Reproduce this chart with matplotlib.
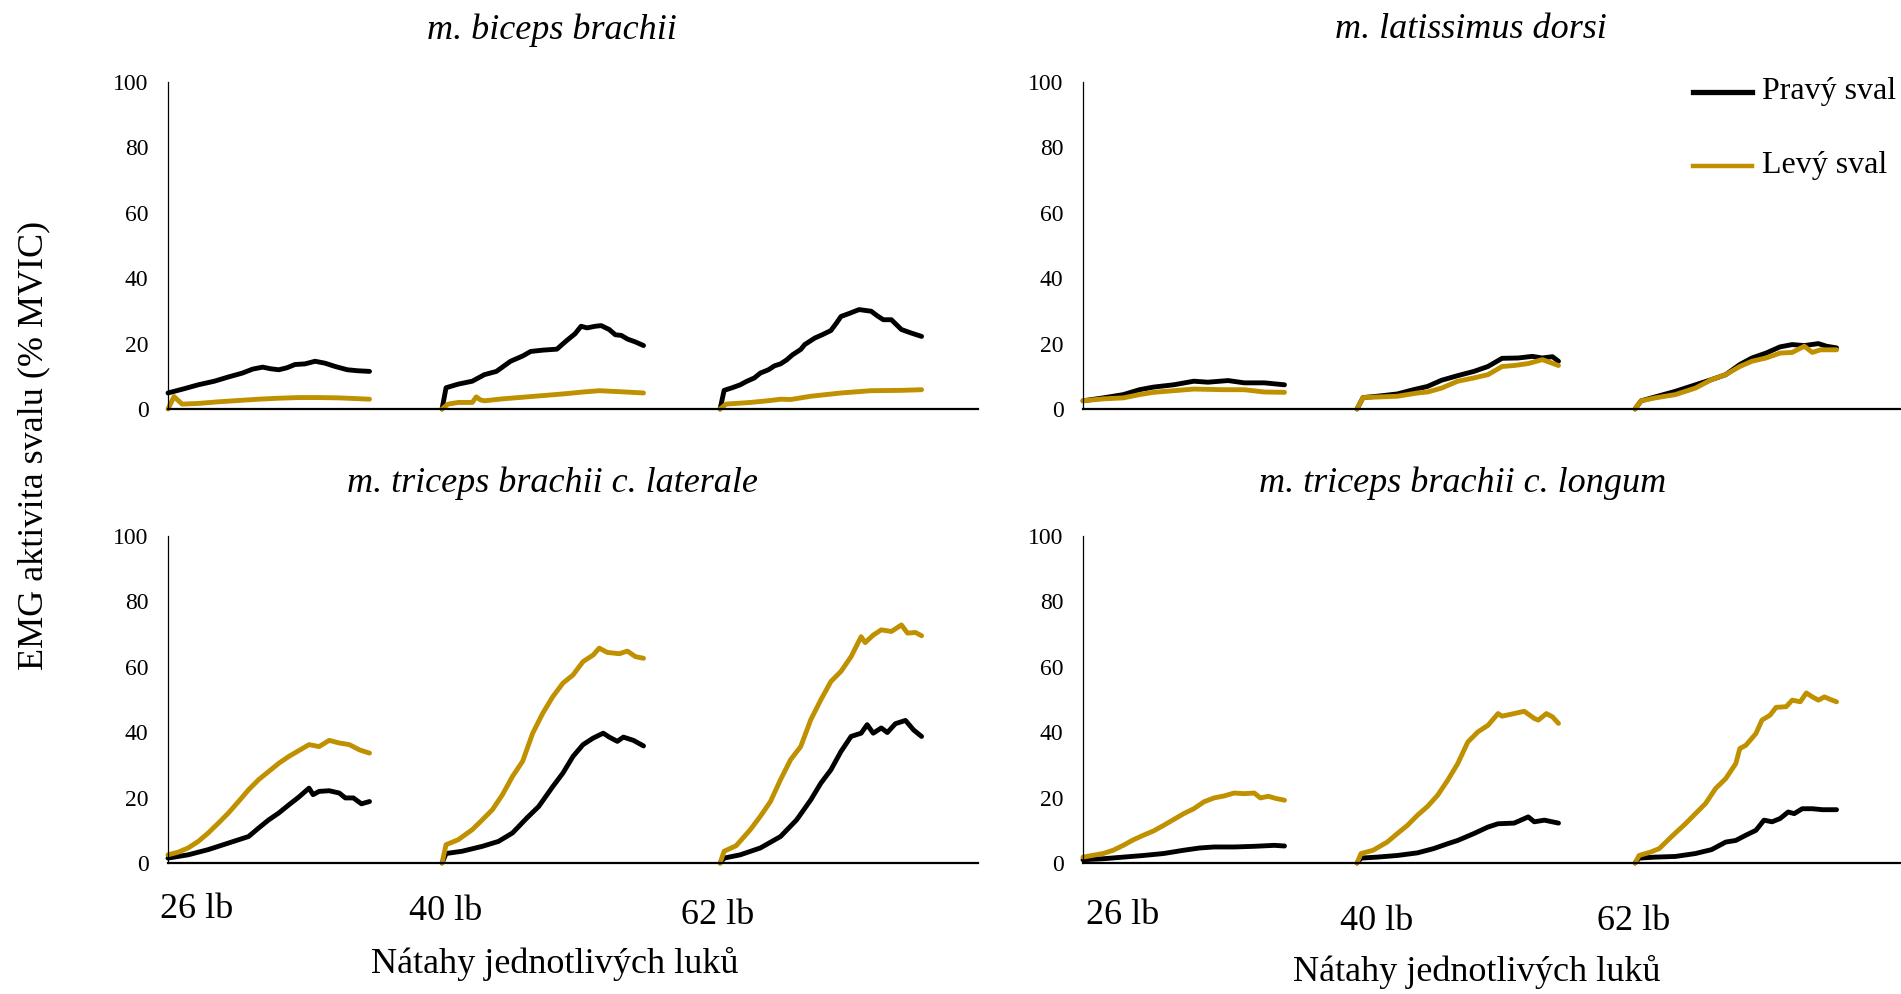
import matplotlib
matplotlib.use("Agg")
import matplotlib.pyplot as plt

W, H = 1901, 994
plt.rcParams['font.family'] = ['Liberation Serif', 'DejaVu Serif']

GOLD = '#BF9000'

# draw weights (one segment per bow) and where each segment starts on the x axis
bows = ['26 lb', '40 lb', '62 lb']
seg_start = [0, 136, 274]

# each curve: three segments of (percent of draw, % MVIC)
biceps_r = [
    [(0, 4.9), (8, 6.2), (15, 7.4), (23, 8.5), (30, 9.8), (37, 11), (42, 12.2), (47, 12.8),
     (51, 12.3), (55, 12), (59, 12.6), (63, 13.6), (68, 13.8), (73, 14.6), (78, 14), (83, 13),
     (89, 12), (94, 11.7), (100, 11.5)],
    [(0, 0), (2, 6.5), (8, 7.6), (15, 8.5), (21, 10.5), (27, 11.5), (34, 14.6), (40, 16.2),
     (44, 17.6), (50, 18), (57, 18.3), (62, 21), (66, 23), (69, 25.3), (72, 24.8), (76, 25.3),
     (79, 25.5), (83, 24.3), (86, 22.7), (89, 22.5), (92, 21.4), (96, 20.5), (100, 19.4)],
    [(0, 0), (2, 5.7), (6, 6.5), (10, 7.4), (13, 8.4), (17, 9.5), (20, 11), (24, 12), (27, 13.2),
     (30, 13.8), (33, 15), (36, 16.6), (40, 18.2), (42, 19.7), (47, 21.7), (51, 22.8), (55, 24),
     (58, 26.5), (60, 28.3), (64, 29.2), (69, 30.4), (75, 29.9), (78, 28.5), (81, 27.3),
     (85, 27.3), (88, 25.5), (90, 24.3), (95, 23.2), (100, 22.2)],
]
biceps_l = [
    [(0, 0), (3, 3.8), (7, 1.5), (15, 1.7), (25, 2.2), (35, 2.6), (45, 3.0), (55, 3.3), (65, 3.5),
     (75, 3.5), (85, 3.4), (100, 3.0)],
    [(0, 0), (3, 1.5), (8, 2.0), (15, 2.0), (17, 3.7), (19, 2.8), (21, 2.5), (30, 3.1), (40, 3.6),
     (50, 4.1), (60, 4.6), (70, 5.2), (78, 5.6), (88, 5.3), (100, 4.9)],
    [(0, 0), (3, 1.5), (15, 2.0), (25, 2.6), (30, 3.0), (35, 2.9), (45, 3.9), (60, 4.9),
     (75, 5.6), (90, 5.7), (100, 5.9)],
]

dorsi_r = [
    [(0, 2.5), (10, 3.4), (20, 4.4), (28, 5.9), (35, 6.7), (45, 7.4), (55, 8.5), (62, 8.2),
     (72, 8.7), (80, 8), (90, 8), (100, 7.4)],
    [(0, 0), (3, 3.5), (10, 3.9), (20, 4.6), (28, 5.9), (35, 6.9), (42, 8.8), (50, 10.2),
     (58, 11.5), (65, 13), (72, 15.5), (80, 15.6), (87, 16.1), (92, 15.6), (97, 16), (100, 14.6)],
    [(0, 0), (3, 2.5), (10, 3.7), (20, 5.4), (30, 7.4), (38, 9.0), (45, 10.5), (52, 13.6),
     (58, 15.6), (65, 17.1), (72, 19), (78, 19.7), (84, 19.4), (91, 20), (95, 19.2), (100, 18.7)],
]
dorsi_l = [
    [(0, 2.5), (10, 3.1), (20, 3.4), (28, 4.4), (35, 5.1), (45, 5.6), (55, 6.1), (70, 5.9),
     (80, 5.9), (90, 5.2), (100, 5.1)],
    [(0, 0), (3, 3.5), (20, 3.9), (30, 4.9), (35, 5.2), (42, 6.4), (50, 8.5), (58, 9.5),
     (65, 10.5), (72, 13), (78, 13.3), (85, 13.9), (92, 15.1), (100, 13.3)],
    [(0, 0), (3, 2.5), (10, 3.4), (20, 4.4), (30, 6.4), (38, 9), (45, 10.5), (52, 13), (58, 14.6),
     (65, 15.6), (72, 17.1), (78, 17.3), (84, 19.2), (88, 17.3), (92, 18.1), (100, 18.1)],
]

lateral_r = [
    [(0, 1.5), (10, 2.5), (20, 4.1), (30, 6.1), (40, 8.1), (45, 10.7), (50, 13.2), (55, 15.3),
     (60, 17.8), (65, 20.2), (70, 22.9), (72, 20.9), (75, 21.9), (80, 22.1), (85, 21.4),
     (88, 19.9), (92, 19.9), (96, 18.1), (100, 18.8)],
    [(0, 0), (2, 2.9), (10, 3.6), (20, 5.1), (28, 6.6), (35, 9.2), (42, 13.7), (48, 17.3),
     (55, 23.4), (60, 27.5), (65, 32.6), (70, 36.2), (75, 38.2), (80, 39.7), (83, 38.5),
     (87, 37.2), (90, 38.5), (95, 37.5), (100, 35.8)],
    [(0, 0), (2, 1.5), (10, 2.5), (20, 4.6), (30, 8.1), (38, 13.2), (45, 19.3), (50, 24.4),
     (55, 28.5), (60, 34.1), (65, 38.7), (70, 39.7), (73, 42.3), (76, 39.7), (80, 41.3),
     (83, 39.9), (87, 42.6), (92, 43.6), (96, 40.7), (100, 38.7)],
]
lateral_l = [
    [(0, 2.5), (5, 3.3), (10, 4.6), (15, 6.6), (20, 9.2), (25, 12.2), (30, 15.3), (35, 18.8),
     (40, 22.4), (45, 25.5), (50, 28), (55, 30.5), (60, 32.6), (65, 34.4), (70, 36.2), (75, 35.6),
     (80, 37.5), (85, 36.7), (90, 36.2), (95, 34.6), (100, 33.6)],
    [(0, 0), (2, 5.6), (8, 7.1), (15, 10.2), (20, 13.2), (25, 16.3), (30, 20.9), (35, 26.5),
     (40, 31.1), (45, 39.7), (50, 45.8), (55, 50.9), (60, 55), (65, 57.5), (70, 61.6), (75, 63.6),
     (78, 65.7), (82, 64.4), (88, 64), (92, 64.8), (96, 63.1), (100, 62.6)],
    [(0, 0), (2, 3.6), (8, 5.3), (15, 10.2), (20, 14.3), (25, 18.8), (30, 25.5), (35, 31.6),
     (40, 35.6), (45, 43.8), (50, 49.9), (55, 55.5), (60, 58.6), (65, 63.1), (70, 69.2),
     (72, 67.4), (76, 69.7), (80, 71.3), (85, 70.8), (90, 72.8), (93, 70.3), (97, 70.5),
     (100, 69.5)],
]

longum_r = [
    [(0, 1.0), (10, 1.3), (20, 1.8), (30, 2.3), (40, 2.9), (50, 3.9), (58, 4.6), (65, 4.9),
     (75, 4.9), (85, 5.1), (95, 5.4), (100, 5.2)],
    [(0, 0), (2, 1.5), (10, 1.8), (20, 2.3), (30, 3.1), (38, 4.4), (45, 5.9), (50, 6.9), (58, 9.0),
     (65, 11.0), (70, 12.0), (78, 12.2), (85, 14.1), (88, 12.6), (93, 13.1), (100, 12.2)],
    [(0, 0), (2, 1.5), (10, 1.8), (20, 2.0), (30, 2.9), (38, 4.1), (45, 6.4), (50, 6.9),
     (55, 8.5), (60, 10.0), (64, 13.1), (68, 12.6), (72, 13.6), (76, 15.6), (79, 15.1),
     (83, 16.6), (88, 16.6), (93, 16.3), (100, 16.3)],
]
longum_l = [
    [(0, 1.8), (10, 2.9), (15, 3.9), (20, 5.4), (25, 7.1), (30, 8.5), (35, 9.8), (40, 11.5),
     (45, 13.3), (50, 15.1), (55, 16.6), (60, 18.7), (65, 19.9), (70, 20.5), (75, 21.4),
     (80, 21.2), (85, 21.4), (88, 19.9), (92, 20.4), (96, 19.7), (100, 19.2)],
    [(0, 0), (2, 2.9), (8, 3.9), (15, 6.4), (20, 9.0), (25, 11.5), (30, 14.6), (35, 17.3),
     (40, 20.7), (45, 25.3), (50, 30.4), (55, 37), (60, 40.1), (65, 42.1), (70, 45.7), (72, 44.9),
     (78, 45.7), (83, 46.4), (88, 44.2), (90, 43.7), (94, 45.7), (97, 44.7), (100, 42.7)],
    [(0, 0), (2, 2.3), (8, 3.4), (12, 4.4), (18, 8.0), (25, 12.0), (30, 15.1), (35, 18.2),
     (40, 22.8), (45, 25.8), (50, 30.4), (52, 35), (55, 36), (60, 39.6), (63, 43.7), (67, 45.2),
     (70, 47.6), (75, 47.8), (78, 49.8), (82, 49.3), (85, 52.0), (88, 50.8), (91, 49.8),
     (94, 50.8), (97, 50), (100, 49.3)],
]

titles = ['m. biceps brachii', 'm. latissimus dorsi',
          'm. triceps brachii c. laterale', 'm. triceps brachii c. longum']
panels = [(biceps_r, biceps_l), (dorsi_r, dorsi_l),
          (lateral_r, lateral_l), (longum_r, longum_l)]


def px_box(x0, x1, ytop, ybot):
    return [x0 / W, 1 - ybot / H, (x1 - x0) / W, (ybot - ytop) / H]


def fig_text(x, y, s, **kw):
    fig.text(x / W, 1 - y / H, s, ha='center', va='center', **kw)


fig = plt.figure(figsize=(W / 100, H / 100), dpi=100)

boxes = [px_box(168, 978, 82, 409), px_box(1083, 1901, 82, 409),
         px_box(168, 978, 536, 863), px_box(1083, 1901, 536, 863)]
xmax = [402, 406, 402, 406]

axes = []
for i, (box, (right, left)) in enumerate(zip(boxes, panels)):
    ax = fig.add_axes(box)
    for series, color in ((right, 'black'), (left, GOLD)):
        for k, seg in enumerate(series):
            xs = [seg_start[k] + u for u, _ in seg]
            ys = [v for _, v in seg]
            ax.plot(xs, ys, color=color, lw=3.5, solid_joinstyle='round',
                    solid_capstyle='round', clip_on=False)
    ax.set_xlim(0, xmax[i])
    ax.set_ylim(0, 100)
    ax.set_yticks(range(0, 101, 20))
    ax.set_xticks([])
    ax.tick_params(axis='y', length=0, pad=14, labelsize=17)
    for side in ('top', 'right'):
        ax.spines[side].set_visible(False)
    ax.spines['left'].set_linewidth(0.9)
    ax.spines['bottom'].set_linewidth(1.6)
    axes.append(ax)

# panel titles
fig_text(552, 30, titles[0], fontsize=26, style='italic')
fig_text(1471, 30, titles[1], fontsize=26, style='italic')
fig_text(552, 483, titles[2], fontsize=26, style='italic')
fig_text(1463, 483, titles[3], fontsize=26, style='italic')

# bow labels under the lower panels
for (x, y), s in zip([(197, 909), (446, 912), (718, 915)], bows):
    fig_text(x, y, s, fontsize=26)
for (x, y), s in zip([(1123, 915), (1377, 921), (1634, 921)], bows):
    fig_text(x, y, s, fontsize=26)
fig_text(555, 964, 'Nátahy jednotlivých luků', fontsize=26)
fig_text(1477, 972, 'Nátahy jednotlivých luků', fontsize=26)

fig_text(34, 445, 'EMG aktivita svalu (% MVIC)', fontsize=26, rotation=90)

# legend drawn in figure coordinates
leg = fig.add_axes([0, 0, 1, 1], facecolor='none')
leg.set_xlim(0, W)
leg.set_ylim(H, 0)
leg.axis('off')
leg.plot([1693, 1752], [92, 92], color='black', lw=3.8)
leg.plot([1693, 1752], [166, 166], color=GOLD, lw=3.2)
leg.text(1762, 92, 'Pravý sval', fontsize=23, va='center', ha='left')
leg.text(1762, 166, 'Levý sval', fontsize=23, va='center', ha='left')

fig.savefig('out.png', dpi=100)
